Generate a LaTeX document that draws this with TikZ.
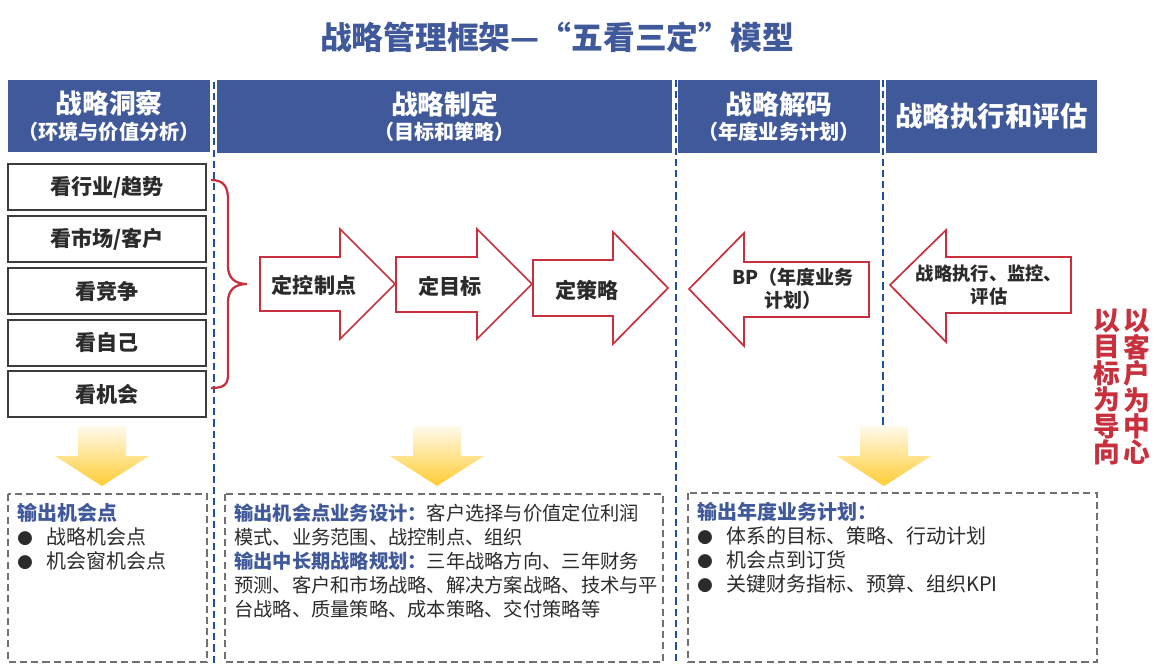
\documentclass[tikz,border=0pt]{standalone}
\usepackage{fontspec}
\setmainfont{Noto Sans CJK SC}
\usepackage{xcolor}
\usepackage{tikz}
\usetikzlibrary{calc}

\definecolor{hdrblue}{HTML}{40599B}
\definecolor{lineblue}{HTML}{1E4FA3}
\definecolor{arrred}{HTML}{C9303E}
\definecolor{txtdark}{HTML}{2B2B2B}
\definecolor{boxgray}{HTML}{3C3C3C}
\definecolor{dashgray}{HTML}{707070}
\definecolor{gold}{HTML}{FFC000}

\newcommand{\dotitem}{\makebox[21pt][l]{\fontsize{11}{11}\selectfont ●}}

\begin{document}
\begin{tikzpicture}[x=0.025cm, y=-0.025cm,
    hdr/.style={fill=hdrblue, text=white, font=\bfseries, align=center, inner sep=0pt},
    lookbox/.style={draw=boxgray, line width=1.4pt, fill=white, minimum width=4.95cm, minimum height=1.15cm, font=\fontsize{15}{18}\selectfont\bfseries, text=txtdark},
    rarrow/.style={draw=arrred, line width=1.2pt, fill=white, line join=miter},
    lbl/.style={font=\fontsize{15}{18}\selectfont\bfseries, text=txtdark, align=center, inner sep=0pt},
    sep/.style={draw=lineblue, line width=1.6pt, dash pattern=on 5pt off 3pt},
    outbox/.style={draw=dashgray, line width=1.4pt, dash pattern=on 5pt off 3pt},
    goldarrow/.style={top color=gold!8, middle color=gold, bottom color=gold!80},
    body/.style={font=\fontsize{14.2}{17}\selectfont, text=txtdark, align=left, anchor=north west, inner sep=0pt},
    vtext/.style={font=\fontsize{19}{18.8}\selectfont\bfseries, text=arrred, align=center, inner sep=0pt}]
    \useasboundingbox (0,0) rectangle (1168,664);

    % Title
    \node[font=\fontsize{22.6}{26}\selectfont\bfseries, text=hdrblue] (title) at (557,37) {战略管理框架—“五看三定”模型};

    % Column separators
    \coordinate (s1t) at (214,82); \coordinate (s1b) at (214,664);
    \coordinate (s2t) at (676,80); \coordinate (s2b) at (676,664);
    \coordinate (s3t) at (883,80); \coordinate (s3b) at (883,426);
    \draw[sep] (s1t) -- (s1b); \draw[sep] (s2t) -- (s2b); \draw[sep] (s3t) -- (s3b);

    % Headers
    \node[hdr, minimum width=5.05cm, minimum height=1.8cm] (h1) at (109,116) {{\fontsize{19}{22}\selectfont 战略洞察}\\[3pt]{\fontsize{14.3}{16}\selectfont（环境与价值分析）}};
    \node[hdr, minimum width=11.375cm, minimum height=1.8cm] (h2) at (444.5,116.5) {{\fontsize{19}{22}\selectfont 战略制定}\\[3pt]{\fontsize{14.3}{16}\selectfont（目标和策略）}};
    \node[hdr, minimum width=5.05cm, minimum height=1.825cm] (h3) at (779,116.5) {{\fontsize{19}{22}\selectfont 战略解码}\\[3pt]{\fontsize{14.3}{16}\selectfont（年度业务计划）}};
    \node[hdr, minimum width=5.275cm, minimum height=1.825cm] (h4) at (991.5,116.5) {\fontsize{19.5}{22}\selectfont 战略执行和评估};

    % Five looks
    \node[lookbox] (k1) at (107,187) {看行业/趋势};
    \node[lookbox] (k2) at (107,239) {看市场/客户};
    \node[lookbox] (k3) at (107,291) {看竞争};
    \node[lookbox] (k4) at (107,343) {看自己};
    \node[lookbox] (k5) at (107,394) {看机会};

    % Brace
    \draw[arrred, line width=1.6pt] (211,180) .. controls (225,180) and (228,188) .. (228,200) -- (228,266) .. controls (228,279) and (236,284) .. (247,284) .. controls (236,284) and (228,289) .. (228,302) -- (228,374) .. controls (228,384) and (225,388) .. (211,388);

    % Three settings
    \draw[rarrow] (260,257) -- (340,257) -- (340,229) -- (395,284) -- (340,339) -- (340,311) -- (260,311) -- cycle;
    \draw[rarrow] (396,257) -- (477,257) -- (477,229) -- (532,284) -- (477,339) -- (477,312) -- (396,312) -- cycle;
    \draw[rarrow] (533,260) -- (613,260) -- (613,232) -- (668,288) -- (613,344) -- (613,316) -- (533,316) -- cycle;
    \node[lbl] (d1) at (314,285) {定控制点};
    \node[lbl] (d2) at (450,286) {定目标};
    \node[lbl] (d3) at (587,290) {定策略};

    % Decode and execute
    \draw[rarrow] (689,289) -- (744,233) -- (744,262) -- (869,262) -- (869,317) -- (744,317) -- (744,346) -- cycle;
    \draw[rarrow] (890,285) -- (946,230) -- (946,257) -- (1071,257) -- (1071,313) -- (946,313) -- (946,342) -- cycle;
    \node[lbl, font=\fontsize{13.5}{16}\selectfont\bfseries] (bp) at (793,289) {BP（年度业务\\计划）};
    \node[lbl, font=\fontsize{13}{16}\selectfont\bfseries] (ex) at (989,285) {战略执行、监控、\\评估};

    % Side slogans
    \node[vtext] (v1) at (1107,387) {以\\目\\标\\为\\导\\向};
    \node[vtext] (v2) at (1137,387) {以\\客\\户\\为\\中\\心};

    % Gold arrows
    \begin{scope}[shift={(102,0)}]
        \shade[goldarrow] (-24,426) -- (24,426) -- (24,456) -- (47,456) -- (0,486) -- (-47,456) -- (-24,456) -- cycle;
    \end{scope}
    \begin{scope}[shift={(437,0)}]
        \shade[goldarrow] (-24,426) -- (24,426) -- (24,456) -- (47,456) -- (0,486) -- (-47,456) -- (-24,456) -- cycle;
    \end{scope}
    \begin{scope}[shift={(884,0)}]
        \shade[goldarrow] (-24,426) -- (24,426) -- (24,456) -- (47,456) -- (0,486) -- (-47,456) -- (-24,456) -- cycle;
    \end{scope}

    % Outputs
    \draw[outbox] (8,494) rectangle (207,662);
    \draw[outbox] (225,494) rectangle (663,662);
    \draw[outbox] (688,493) rectangle (1097,662);

    \node[body] (o1) at (17,503) {\textcolor{hdrblue}{\bfseries 输出机会点}\\
        \dotitem 战略机会点\\
        \dotitem 机会窗机会点};
    \node[body, font=\fontsize{13.7}{17}\selectfont] (o2) at (234,504) {\textcolor{hdrblue}{\bfseries 输出机会点业务设计：}客户选择与价值定位利润\\
        模式、业务范围、战控制点、组织\\
        \textcolor{hdrblue}{\bfseries 输出中长期战略规划：}三年战略方向、三年财务\\
        预测、客户和市场战略、解决方案战略、技术与平\\
        台战略、质量策略、成本策略、交付策略等};
    \node[body] (o3) at (697,502) {\textcolor{hdrblue}{\bfseries 输出年度业务计划：}\\
        \dotitem 体系的目标、策略、行动计划\\
        \dotitem 机会点到订货\\
        \dotitem 关键财务指标、预算、组织KPI};
\end{tikzpicture}
\end{document}
